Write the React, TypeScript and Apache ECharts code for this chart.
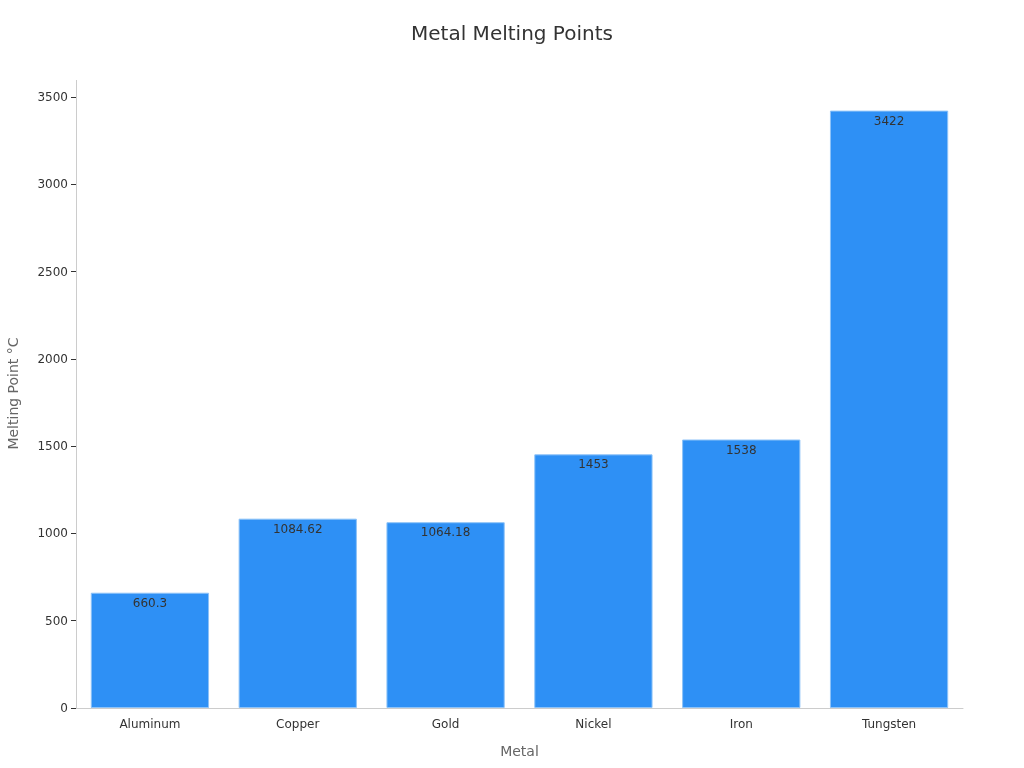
import React, { useEffect, useRef } from "react";
import * as echarts from "echarts";

const categories = ["Aluminum", "Copper", "Gold", "Nickel", "Iron", "Tungsten"];
const meltingPoints = [660.3, 1084.62, 1064.18, 1453, 1538, 3422];

export default function App() {
  const ref = useRef<HTMLDivElement>(null);
  useEffect(() => {
    if (!ref.current) return;
    const chart = echarts.init(ref.current, undefined, { renderer: "svg" });
    chart.setOption({
      animation: false,
      title: {
        text: "Metal Melting Points",
        left: "center",
        top: 18,
        textStyle: { fontSize: 20, fontWeight: "normal", color: "#333", fontFamily: "DejaVu Sans" },
      },
      grid: { left: 76, right: 61, top: 97, bottom: 60, outerBoundsMode: "none", containLabel: false },
      xAxis: {
        type: "category",
        data: categories,
        name: "Metal",
        nameLocation: "middle",
        nameGap: 36,
        nameTextStyle: { fontSize: 14, color: "#666", fontFamily: "DejaVu Sans" },
        axisLine: { lineStyle: { color: "#ccc" } },
        axisTick: { alignWithLabel: true, lineStyle: { color: "#999" } },
        axisLabel: { fontSize: 12, color: "#333", margin: 10, fontFamily: "DejaVu Sans" },
      },
      yAxis: {
        type: "value",
        min: 0,
        max: 3500,
        interval: 500,
        name: "Melting Point °C",
        nameLocation: "middle",
        nameGap: 56,
        nameTextStyle: {
          fontSize: 14,
          color: "#666",
          fontFamily: "DejaVu Sans",
          padding: [0, 0, 0, 18],
        },
        axisLine: { show: true, lineStyle: { color: "#ccc" } },
        axisTick: { show: true, lineStyle: { color: "#333" } },
        axisLabel: {
          fontSize: 12,
          color: "#333",
          fontFamily: "DejaVu Sans",
          formatter: (v: number) => String(v),
        },
        splitLine: { show: false },
      },
      graphic: [
        {
          type: "line",
          shape: { x1: 76.5, y1: 80, x2: 76.5, y2: 97 },
          style: { stroke: "#ccc", lineWidth: 1 },
        },
      ],
      series: [
        {
          type: "bar",
          data: meltingPoints,
          barCategoryGap: "20%",
          itemStyle: { color: "#2E90F5", borderColor: "#8EC3F8", borderWidth: 1 },
          label: {
            show: true,
            position: "insideTop",
            distance: 4,
            fontSize: 12,
            color: "#333",
            fontFamily: "DejaVu Sans",
          },
        },
      ],
    });
    return () => chart.dispose();
  }, []);
  return (
    <div
      ref={ref}
      style={{ width: 1024, height: 768, position: "fixed", left: 0, top: 0 }}
    />
  );
}
